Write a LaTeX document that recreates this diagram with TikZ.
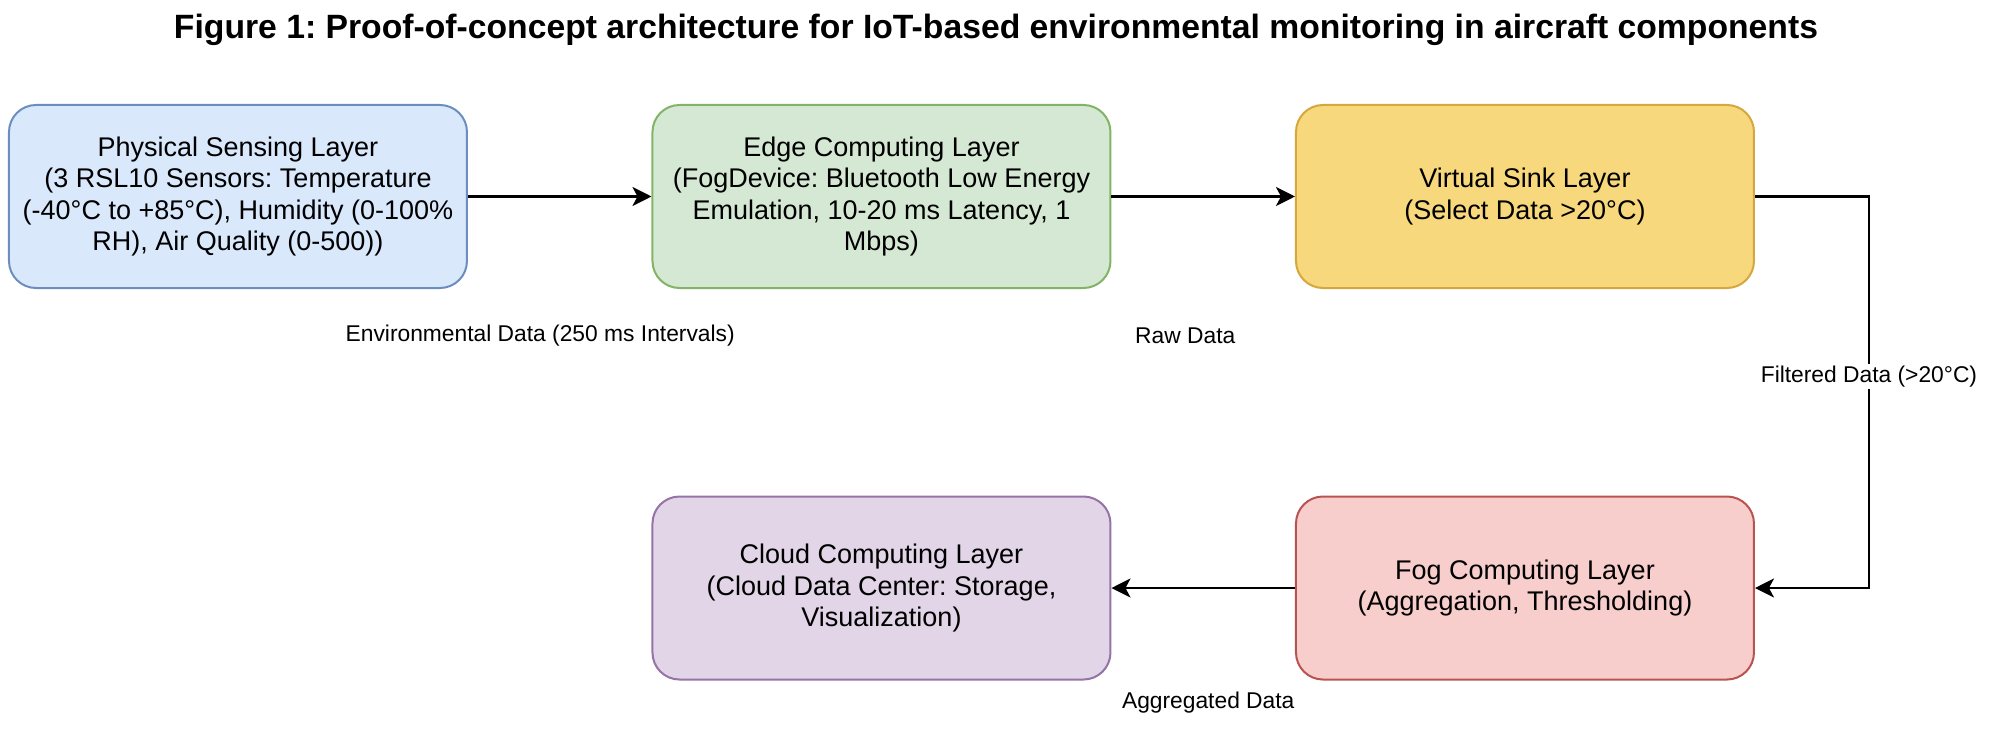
\documentclass[tikz,border=0pt]{standalone}
\usepackage{fontspec}
\setmainfont{Liberation Sans}
\usepackage{tikz}
\usetikzlibrary{positioning, arrows.meta, calc}
\frenchspacing

\definecolor{blueF}{HTML}{DAE8FC}\definecolor{blueD}{HTML}{6C8EBF}
\definecolor{greenF}{HTML}{D5E8D4}\definecolor{greenD}{HTML}{82B366}
\definecolor{yellowF}{HTML}{F7D87C}\definecolor{yellowD}{HTML}{D6A73C}
\definecolor{redF}{HTML}{F8CECC}\definecolor{redD}{HTML}{B85450}
\definecolor{purpleF}{HTML}{E1D5E7}\definecolor{purpleD}{HTML}{9673A6}

\tikzset{
    layer/.style={draw, line width=1pt, rounded corners=13.5pt, minimum width=8.048cm, minimum height=3.216cm,
        align=center, font=\fontsize{13.5}{15.8}\selectfont},
    flowlabel/.style={font=\fontsize{11.4}{13.7}\selectfont, inner sep=1pt}
}

\begin{document}
\begin{tikzpicture}[>={Stealth[length=9.5pt, width=9.5pt, inset=2.5pt]}, line width=1.2pt, node distance=6.88cm and 11.308cm, on grid]
    \useasboundingbox (-4.182,3.453) rectangle (30.77,-9.604);

    \node[font=\bfseries\fontsize{16.85}{19}\selectfont] (title) at (13.32,2.93)
        {Figure 1: Proof-of-concept architecture for IoT-based environmental monitoring in aircraft components};

    \node[layer, fill=blueF, draw=blueD] (sense) {Physical Sensing Layer\\(3 RSL10 Sensors: Temperature\\(-40°C to +85°C), Humidity (0-100\%\\RH), Air Quality (0-500))};
    \node[layer, fill=greenF, draw=greenD] (edgec) [right=of sense] {Edge Computing Layer\\(FogDevice: Bluetooth Low Energy\\Emulation, 10-20 ms Latency, 1\\Mbps)};
    \node[layer, fill=yellowF, draw=yellowD] (sink) [right=of edgec] {Virtual Sink Layer\\(Select Data >20°C)};
    \node[layer, fill=redF, draw=redD] (fog) [below=of sink] {Fog Computing Layer\\(Aggregation, Thresholding)};
    \node[layer, fill=purpleF, draw=purpleD] (cloud) [left=of fog] {Cloud Computing Layer\\(Cloud Data Center: Storage,\\Visualization)};

    \path[->]
    (sense) edge node[flowlabel, xshift=-0.343cm, yshift=-2.451cm] {Environmental Data (250 ms Intervals)} (edgec)
    (edgec) edge node[flowlabel, xshift=-0.316cm, yshift=-2.451cm] {Raw Data} (sink)
    (fog) edge node[flowlabel, xshift=0.088cm, yshift=-2.02cm] {Aggregated Data} (cloud);
    \draw[->] (sink.east) -- ++(2.003cm,0) |- node[flowlabel, pos=0.23, fill=white] {Filtered Data (>20°C)} (fog.east);
\end{tikzpicture}
\end{document}
